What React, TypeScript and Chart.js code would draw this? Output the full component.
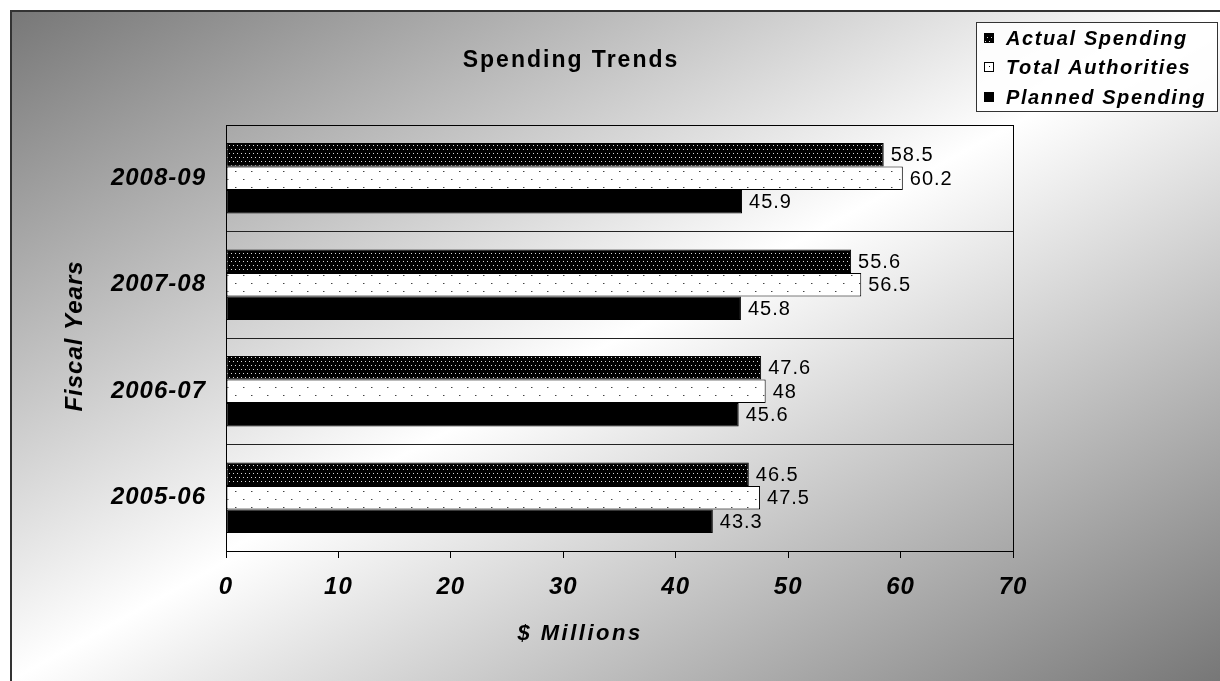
import React, { useEffect, useRef } from 'react';
import { Chart, registerables } from 'chart.js';

Chart.register(...registerables);

const categories = ['2008-09', '2007-08', '2006-07', '2005-06'];
const actualSpending = [58.5, 55.6, 47.6, 46.5];
const totalAuthorities = [60.2, 56.5, 48, 47.5];
const plannedSpending = [45.9, 45.8, 45.6, 43.3];
const seriesNames = ['Actual Spending', 'Total Authorities', 'Planned Spending'];
const chartTitle = 'Spending Trends';
const xAxisTitle = '$ Millions';
const yAxisTitle = 'Fiscal Years';
const xMin = 0;
const xMax = 70;
const xStep = 10;

const FF = '"Liberation Sans", Arial, Helvetica, sans-serif';

function makePattern(kind: 'actual' | 'total'): CanvasPattern | string {
  const c = document.createElement('canvas');
  if (kind === 'actual') {
    c.width = 4;
    c.height = 8;
    const x = c.getContext('2d')!;
    x.fillStyle = '#000';
    x.fillRect(0, 0, 4, 8);
    x.fillStyle = '#d8d8d8';
    x.fillRect(1, 1, 1, 1);
    x.fillRect(3, 5, 1, 1);
  } else {
    c.width = 16;
    c.height = 16;
    const x = c.getContext('2d')!;
    x.fillStyle = '#fff';
    x.fillRect(0, 0, 16, 16);
    x.fillStyle = '#444';
    x.fillRect(3, 3, 1, 1);
    x.fillRect(11, 11, 1, 1);
    x.fillStyle = '#aaa';
    x.fillRect(4, 3, 1, 1);
    x.fillRect(12, 11, 1, 1);
  }
  const ctx = document.createElement('canvas').getContext('2d')!;
  return ctx.createPattern(c, 'repeat') || '#000';
}

function diagGradient(ctx: CanvasRenderingContext2D, x: number, y: number, W: number, H: number, edge: string) {
  const k = (2 * W * H) / (W * W + H * H);
  const g = ctx.createLinearGradient(x, y, x + H * k, y + W * k);
  g.addColorStop(0, edge);
  g.addColorStop(0.5, '#ffffff');
  g.addColorStop(1, edge);
  return g;
}

export default function App() {
  const ref = useRef<HTMLCanvasElement | null>(null);

  useEffect(() => {
    document.body.style.margin = '0';
    const canvas = ref.current;
    if (!canvas) return;
    const actualPat = makePattern('actual');
    const totalPat = makePattern('total');

    const decor = {
      id: 'decor',
      beforeDraw(chart: any) {
        const ctx: CanvasRenderingContext2D = chart.ctx;
        const { width, height, chartArea: ca } = chart;
        ctx.save();
        ctx.fillStyle = '#fff';
        ctx.fillRect(0, 0, width, height);
        const ox = 10, oy = 10;
        ctx.fillStyle = diagGradient(ctx, ox, oy, width - ox, height - oy, '#777777');
        ctx.fillRect(ox, oy, width - ox, height - oy);
        ctx.strokeStyle = '#333';
        ctx.lineWidth = 2;
        ctx.beginPath();
        ctx.moveTo(11, height);
        ctx.lineTo(11, 11);
        ctx.lineTo(width, 11);
        ctx.stroke();
        const pw = ca.right - ca.left, ph = ca.bottom - ca.top;
        ctx.fillStyle = diagGradient(ctx, ca.left, ca.top, pw, ph, '#a8a8a8');
        ctx.fillRect(ca.left, ca.top, pw, ph);
        ctx.restore();
        (ctx as any).letterSpacing = '1px';
      },
      afterDatasetsDraw(chart: any) {
        const ctx: CanvasRenderingContext2D = chart.ctx;
        ctx.save();
        (ctx as any).letterSpacing = '1px';
        ctx.font = `20px ${FF}`;
        ctx.fillStyle = '#000';
        ctx.textAlign = 'left';
        ctx.textBaseline = 'middle';
        chart.data.datasets.forEach((ds: any, i: number) => {
          const meta = chart.getDatasetMeta(i);
          meta.data.forEach((el: any, j: number) => {
            ctx.fillText(String(ds.data[j]), el.x + 7, el.y + 1);
          });
        });
        ctx.restore();
      },
      afterDraw(chart: any) {
        const ctx: CanvasRenderingContext2D = chart.ctx;
        const ca = chart.chartArea;
        ctx.save();
        ctx.strokeStyle = '#000';
        ctx.lineWidth = 1;
        ctx.strokeRect(Math.round(ca.left) + 0.5, Math.round(ca.top) + 0.5, Math.round(ca.right - ca.left), Math.round(ca.bottom - ca.top));

        ctx.fillStyle = '#000';
        // title
        (ctx as any).letterSpacing = '2px';
        ctx.font = `bold 23px ${FF}`;
        ctx.textAlign = 'center';
        ctx.textBaseline = 'alphabetic';
        ctx.fillText(chartTitle, 571, 67);

        // x axis title
        (ctx as any).letterSpacing = '2.5px';
        ctx.font = `italic bold 22px ${FF}`;
        ctx.fillText(xAxisTitle, 580, 640);

        // y axis title
        (ctx as any).letterSpacing = '1px';
        ctx.font = `italic bold 24px ${FF}`;
        ctx.save();
        ctx.translate(82, 336);
        ctx.rotate(-Math.PI / 2);
        ctx.textAlign = 'center';
        ctx.fillText(yAxisTitle, 0, 0);
        ctx.restore();

        // legend
        const lx = 976.5, ly = 22.5, lw = 241, lh = 89;
        ctx.fillStyle = 'rgba(255,255,255,0.85)';
        ctx.fillRect(lx, ly, lw, lh);
        ctx.strokeStyle = '#333';
        ctx.lineWidth = 1;
        ctx.strokeRect(lx, ly, lw, lh);
        const rows = [38, 67, 97];
        const fills: any[] = [actualPat, totalPat, '#000'];
        (ctx as any).letterSpacing = '1.6px';
        ctx.font = `italic bold 20px ${FF}`;
        ctx.textAlign = 'left';
        ctx.textBaseline = 'middle';
        seriesNames.forEach((name, i) => {
          const ry = rows[i];
          ctx.fillStyle = fills[i];
          ctx.fillRect(984, ry - 5, 10, 10);
          ctx.strokeStyle = '#000';
          ctx.strokeRect(984.5, ry - 4.5, 9, 9);
          if (i === 1) {
            ctx.fillStyle = '#000';
            ctx.fillRect(989, ry - 1, 1, 1);
          }
          ctx.fillStyle = '#000';
          ctx.fillText(name, 1006, ry + 1);
        });
        ctx.restore();
      },
    };

    const tickFont = { family: FF, size: 24, style: 'italic' as const, weight: 'bold' as const };

    const chart = new Chart(canvas, {
      type: 'bar',
      data: {
        labels: categories,
        datasets: [
          { label: seriesNames[0], data: actualSpending, backgroundColor: actualPat as any, borderColor: '#000', borderWidth: 1, borderSkipped: false },
          { label: seriesNames[1], data: totalAuthorities, backgroundColor: totalPat as any, borderColor: '#000', borderWidth: 1, borderSkipped: false },
          { label: seriesNames[2], data: plannedSpending, backgroundColor: '#000', borderColor: '#000', borderWidth: 1, borderSkipped: false },
        ],
      },
      options: {
        indexAxis: 'y',
        responsive: false,
        maintainAspectRatio: false,
        animation: false,
        devicePixelRatio: 1,
        layout: { padding: { top: 125, right: 207, bottom: 70, left: 0 } },
        datasets: { bar: { categoryPercentage: 0.66, barPercentage: 1.0 } },
        plugins: {
          legend: { display: false },
          title: { display: false },
          tooltip: { enabled: false },
        },
        scales: {
          x: {
            type: 'linear',
            min: xMin,
            max: xMax,
            ticks: { stepSize: xStep, color: '#000', font: tickFont, padding: 15 },
            grid: { drawOnChartArea: false, drawTicks: true, tickLength: 7, color: '#000', lineWidth: 1 },
            border: { display: true, color: '#000', width: 1 },
            afterFit: (scale: any) => { scale.height = 60; },
          },
          y: {
            type: 'category',
            ticks: { color: '#000', font: tickFont, padding: 20 },
            grid: { offset: true, drawTicks: false, color: '#222', lineWidth: 1 },
            border: { display: true, color: '#000', width: 1 },
            afterFit: (scale: any) => { scale.width = 226; },
          },
        },
      },
      plugins: [decor],
    });

    return () => chart.destroy();
  }, []);

  return (
    <div style={{ width: 1220, height: 681 }}>
      <canvas ref={ref} width={1220} height={681} style={{ display: 'block', width: 1220, height: 681 }} />
    </div>
  );
}
